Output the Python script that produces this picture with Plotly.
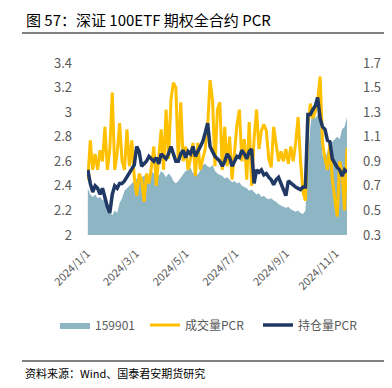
import pandas as pd
import plotly.graph_objects as go

DATES = pd.date_range("2024-01-02", periods=107, freq="3D")

ETF_159901 = [
    2.38, 2.33, 2.31, 2.33, 2.30, 2.31, 2.28, 2.30, 2.24, 2.20,
    2.16, 2.20, 2.18, 2.26, 2.30, 2.36, 2.38, 2.40, 2.42, 2.44,
    2.46, 2.45, 2.47, 2.48, 2.50, 2.49, 2.52, 2.50, 2.53, 2.48,
    2.52, 2.50, 2.47, 2.50, 2.48, 2.44, 2.42, 2.44, 2.47, 2.50,
    2.52, 2.53, 2.55, 2.50, 2.52, 2.49, 2.53, 2.57, 2.58, 2.56,
    2.55, 2.57, 2.52, 2.50, 2.49, 2.48, 2.46, 2.47, 2.45, 2.43,
    2.44, 2.42, 2.43, 2.40, 2.39, 2.38, 2.36, 2.37, 2.35, 2.33,
    2.34, 2.31, 2.32, 2.30, 2.29, 2.30, 2.28, 2.27, 2.25, 2.24,
    2.23, 2.22, 2.23, 2.21, 2.20, 2.19, 2.20, 2.18, 2.17, 2.20,
    2.62, 2.88, 3.04, 2.95, 2.98, 2.96, 2.65, 2.62, 2.68, 2.72,
    2.76, 2.78, 2.80, 2.78, 2.86, 2.88, 2.96,
]

VOLUME_PCR = [
    0.75, 1.07, 0.83, 0.96, 0.83, 0.99, 0.90, 1.18, 0.83, 1.00,
    1.46, 0.83, 0.96, 1.21, 0.90, 0.83, 1.16, 0.86, 1.07, 0.77,
    0.62, 0.80, 0.75, 0.57, 0.80, 0.72, 0.85, 1.02, 0.70, 0.92,
    1.16, 0.83, 1.32, 0.92, 1.40, 1.54, 1.50, 0.90, 1.38, 0.90,
    1.02, 0.83, 0.92, 1.05, 0.78, 1.05, 0.83, 0.92, 1.00, 1.18,
    1.56, 1.40, 0.86, 1.32, 1.38, 0.83, 1.18, 0.86, 1.10, 0.75,
    1.00, 1.20, 1.32, 0.90, 1.08, 0.75, 1.22, 0.70, 1.08, 1.32,
    1.00, 1.15, 1.20, 1.15, 0.92, 0.85, 1.18, 1.02, 0.90, 0.98,
    0.90, 1.00, 0.88, 1.02, 0.90, 1.05, 1.26, 0.90, 0.65, 0.58,
    1.18, 1.37, 1.25, 1.30, 1.40, 1.59, 1.05, 0.92, 0.83, 1.05,
    0.75, 0.60, 0.45, 0.90, 0.80, 0.50, 1.01,
]

OI_PCR = [
    0.83, 0.72, 0.65, 0.70, 0.68, 0.63, 0.68, 0.60, 0.53, 0.48,
    0.63, 0.70, 0.68, 0.72, 0.72, 0.74, 0.77, 0.80, 0.83, 0.87,
    1.02, 0.98, 0.86, 0.88, 0.90, 0.94, 0.92, 0.90, 0.93, 0.88,
    0.96, 0.94, 0.92, 0.96, 1.02, 0.96, 0.90, 0.90, 0.96, 0.99,
    0.93, 0.98, 0.96, 1.02, 0.94, 0.98, 1.02, 1.06, 1.13, 1.21,
    1.02, 0.98, 0.94, 0.92, 0.90, 0.86, 0.90, 0.96, 0.93, 0.86,
    0.90, 0.94, 0.93, 0.99, 0.96, 0.92, 0.98, 1.00, 0.72, 0.83,
    0.81, 0.83, 0.79, 0.80, 0.77, 0.75, 0.71, 0.75, 0.77, 0.72,
    0.66, 0.62, 0.74, 0.72, 0.70, 0.69, 0.68, 0.67, 0.69, 0.69,
    1.28, 1.28, 1.32, 1.35, 1.42, 1.25, 1.18, 1.16, 1.07, 1.06,
    0.92, 0.88, 0.85, 0.83, 0.78, 0.83, 0.81,
]

TICK_VALS = ["2024-01-01", "2024-03-01", "2024-05-01", "2024-07-01", "2024-09-01", "2024-11-01"]
TICK_TEXT = ["2024/1/1", "2024/3/1", "2024/5/1", "2024/7/1", "2024/9/1", "2024/11/1"]

TITLE = "图 57：深证 100ETF 期权全合约 PCR"
SOURCE = "资料来源：Wind、国泰君安期货研究"

FONT = "Noto Sans CJK SC"
GRAY = "#595959"

# the page body has an 8px margin, so the figure is laid out in 384x380
W, H = 384, 380
L, R, T, B = 79, 339, 55, 227
PW, PH = R - L, B - T


def px(x):
    return (x - L) / PW


def py(y):
    return (B - y) / PH


fig = go.Figure()
fig.add_trace(go.Scatter(
    x=DATES, y=ETF_159901, name="159901", mode="lines",
    line=dict(width=0, color="#8DB5C4"), fill="tozeroy", fillcolor="#8DB5C4",
    yaxis="y", legend="legend",
))
fig.add_trace(go.Scatter(
    x=DATES, y=VOLUME_PCR, name="成交量PCR", mode="lines",
    line=dict(width=3, color="#FFC000"), yaxis="y2", legend="legend2",
))
fig.add_trace(go.Scatter(
    x=DATES, y=OI_PCR, name="持仓量PCR", mode="lines",
    line=dict(width=3.5, color="#1F3864"), yaxis="y2", legend="legend3",
))

LEG_Y = (H - 317) / H


def leg(xpix):
    return dict(orientation="h", xref="container", yref="container",
                x=xpix / W, xanchor="left", y=LEG_Y, yanchor="middle",
                font=dict(size=12, color=GRAY, family=FONT), itemwidth=30,
                bgcolor="rgba(0,0,0,0)", borderwidth=0)


fig.update_layout(
    width=W, height=H,
    margin=dict(l=L, r=W - R, t=T, b=H - B, autoexpand=False),
    paper_bgcolor="white", plot_bgcolor="white",
    font=dict(family=FONT, color=GRAY, size=12),
    showlegend=True,
    legend=leg(47), legend2=leg(137), legend3=leg(250),
    xaxis=dict(type="date", range=["2024-01-01", "2024-11-15"], automargin=False,
               tickvals=TICK_VALS, ticktext=TICK_TEXT, tickangle=-45,
               showgrid=False, zeroline=False, showline=False, ticks="",
               tickfont=dict(size=11, color=GRAY), ticklabelstandoff=9),
    yaxis=dict(range=[2, 3.4], tick0=2, dtick=0.2, showgrid=False, zeroline=False,
               automargin=False, showline=False, ticks="",
               tickfont=dict(size=13, color=GRAY), ticklabelstandoff=14),
    yaxis2=dict(range=[0.3, 1.7], tick0=0.3, dtick=0.2, overlaying="y", side="right",
                automargin=False, showgrid=False, zeroline=False, showline=False,
                ticks="", tickfont=dict(size=13, color=GRAY), ticklabelstandoff=15),
)

fig.add_annotation(text=TITLE, xref="paper", yref="paper", x=px(16), y=py(11),
                   xanchor="left", yanchor="middle", showarrow=False,
                   font=dict(size=15, color="#000000", family=FONT))
fig.add_annotation(text=SOURCE, xref="paper", yref="paper", x=px(15), y=py(365),
                   xanchor="left", yanchor="middle", showarrow=False,
                   font=dict(size=11, color="#000000", family=FONT))
fig.add_shape(type="line", xref="paper", yref="paper", x0=px(14), x1=px(384),
              y0=py(25), y1=py(25), line=dict(color="#808080", width=2))
fig.add_shape(type="line", xref="paper", yref="paper", x0=px(14), x1=px(384),
              y0=py(353), y1=py(353), line=dict(color="#808080", width=2))

fig.write_html("out.html")
